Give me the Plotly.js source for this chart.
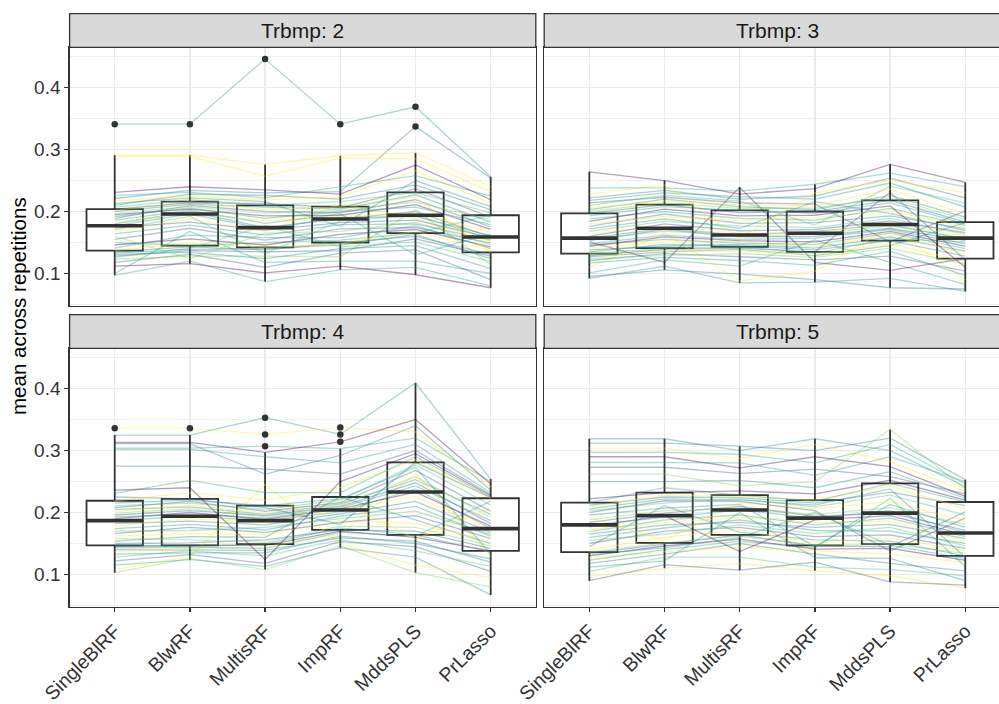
<!DOCTYPE html>
<html>
<head>
<meta charset="utf-8">
<script src="https://cdn.plot.ly/plotly-3.0.1.min.js"></script>
<style>
  html, body { margin: 0; padding: 0; overflow: hidden; background: #ffffff; width: 999px; height: 704px; }
  #plot { width: 1013px; height: 704px; }
</style>
</head>
<body>
<div id="plot"></div>
<script>
// Methods compared on the x axis
const methods = ['SingleBlRF', 'BlwRF', 'MultisRF', 'ImpRF', 'MddsPLS', 'PrLasso'];
const facetLabels = ['Trbmp: 2', 'Trbmp: 3', 'Trbmp: 4', 'Trbmp: 5'];
const yTickVals = [0.1, 0.2, 0.3, 0.4];
const yTickText = ['0.1', '0.2', '0.3', '0.4'];

// One row per dataset: mean across repetitions for each method
const trbmp2 = [
  [0.341,0.341,0.446,0.341,0.369,0.256],
  [0.221,0.234,0.230,0.232,0.337,0.254],
  [0.291,0.291,0.276,0.290,0.295,0.240],
  [0.097,0.120,0.087,0.106,0.110,0.080],
  [0.112,0.116,0.101,0.112,0.098,0.077],
  [0.100,0.168,0.118,0.120,0.120,0.100],
  [0.118,0.131,0.110,0.133,0.138,0.090],
  [0.123,0.128,0.128,0.127,0.203,0.114],
  [0.131,0.134,0.124,0.140,0.145,0.108],
  [0.289,0.289,0.257,0.286,0.285,0.232],
  [0.128,0.137,0.135,0.137,0.156,0.128],
  [0.126,0.141,0.177,0.143,0.151,0.119],
  [0.133,0.139,0.140,0.146,0.163,0.124],
  [0.135,0.143,0.138,0.150,0.160,0.131],
  [0.137,0.150,0.142,0.148,0.168,0.137],
  [0.150,0.145,0.150,0.154,0.165,0.194],
  [0.146,0.156,0.146,0.163,0.171,0.143],
  [0.141,0.162,0.158,0.158,0.177,0.140],
  [0.155,0.173,0.154,0.172,0.174,0.149],
  [0.160,0.124,0.165,0.168,0.183,0.146],
  [0.164,0.178,0.162,0.179,0.180,0.154],
  [0.167,0.188,0.168,0.212,0.189,0.152],
  [0.174,0.183,0.170,0.182,0.186,0.158],
  [0.171,0.192,0.132,0.185,0.194,0.156],
  [0.177,0.196,0.172,0.190,0.192,0.161],
  [0.180,0.200,0.174,0.188,0.200,0.159],
  [0.183,0.198,0.185,0.192,0.197,0.167],
  [0.186,0.202,0.181,0.196,0.130,0.164],
  [0.195,0.204,0.193,0.194,0.211,0.171],
  [0.192,0.206,0.189,0.200,0.207,0.179],
  [0.189,0.210,0.200,0.198,0.219,0.175],
  [0.197,0.208,0.197,0.202,0.215,0.187],
  [0.200,0.212,0.207,0.204,0.227,0.183],
  [0.202,0.216,0.203,0.208,0.223,0.134],
  [0.204,0.214,0.213,0.206,0.237,0.191],
  [0.207,0.219,0.210,0.216,0.231,0.198],
  [0.213,0.222,0.216,0.176,0.250,0.208],
  [0.210,0.228,0.226,0.220,0.243,0.203],
  [0.217,0.225,0.219,0.224,0.266,0.213],
  [0.226,0.231,0.222,0.240,0.258,0.225],
  [0.231,0.240,0.235,0.228,0.275,0.219]
];

const trbmp3 = [
  [0.092,0.112,0.085,0.086,0.092,0.071],
  [0.095,0.106,0.099,0.090,0.077,0.075],
  [0.110,0.165,0.088,0.104,0.175,0.090],
  [0.101,0.122,0.112,0.154,0.118,0.082],
  [0.151,0.118,0.239,0.118,0.105,0.124],
  [0.117,0.126,0.121,0.113,0.136,0.097],
  [0.121,0.132,0.127,0.122,0.128,0.104],
  [0.124,0.129,0.132,0.126,0.141,0.115],
  [0.127,0.135,0.139,0.129,0.145,0.182],
  [0.131,0.137,0.136,0.131,0.148,0.119],
  [0.129,0.139,0.141,0.135,0.231,0.122],
  [0.132,0.141,0.143,0.133,0.156,0.151],
  [0.135,0.147,0.145,0.138,0.153,0.128],
  [0.138,0.144,0.147,0.141,0.159,0.136],
  [0.141,0.151,0.151,0.144,0.162,0.132],
  [0.146,0.155,0.149,0.147,0.165,0.140],
  [0.144,0.159,0.153,0.151,0.168,0.144],
  [0.148,0.162,0.155,0.157,0.171,0.148],
  [0.153,0.171,0.159,0.160,0.173,0.153],
  [0.155,0.168,0.161,0.163,0.177,0.157],
  [0.157,0.173,0.162,0.168,0.179,0.155],
  [0.164,0.176,0.165,0.165,0.182,0.160],
  [0.160,0.180,0.169,0.171,0.185,0.166],
  [0.168,0.184,0.177,0.174,0.189,0.163],
  [0.172,0.188,0.173,0.216,0.197,0.169],
  [0.176,0.196,0.181,0.182,0.193,0.172],
  [0.180,0.192,0.185,0.190,0.201,0.175],
  [0.188,0.200,0.189,0.186,0.205,0.178],
  [0.184,0.204,0.193,0.194,0.209,0.110],
  [0.193,0.208,0.202,0.197,0.214,0.180],
  [0.197,0.211,0.198,0.200,0.218,0.183],
  [0.200,0.214,0.205,0.206,0.222,0.187],
  [0.203,0.220,0.208,0.203,0.226,0.191],
  [0.206,0.217,0.211,0.209,0.236,0.196],
  [0.214,0.223,0.214,0.212,0.151,0.201],
  [0.210,0.226,0.217,0.178,0.241,0.214],
  [0.218,0.230,0.224,0.220,0.246,0.207],
  [0.222,0.234,0.220,0.225,0.254,0.222],
  [0.228,0.243,0.157,0.230,0.250,0.230],
  [0.238,0.238,0.233,0.244,0.262,0.240],
  [0.264,0.250,0.228,0.237,0.276,0.247]
];

const trbmp4 = [
  [0.325,0.325,0.353,0.326,0.409,0.254],
  [0.311,0.311,0.262,0.292,0.340,0.236],
  [0.336,0.336,0.326,0.337,0.330,0.241],
  [0.304,0.304,0.307,0.303,0.320,0.250],
  [0.313,0.313,0.297,0.314,0.350,0.246],
  [0.302,0.302,0.290,0.280,0.310,0.232],
  [0.275,0.275,0.270,0.262,0.300,0.229],
  [0.103,0.126,0.108,0.146,0.103,0.080],
  [0.115,0.124,0.113,0.143,0.128,0.067],
  [0.108,0.129,0.245,0.150,0.115,0.095],
  [0.122,0.132,0.118,0.153,0.145,0.105],
  [0.128,0.138,0.130,0.156,0.138,0.113],
  [0.133,0.135,0.135,0.162,0.150,0.125],
  [0.140,0.140,0.139,0.159,0.154,0.120],
  [0.137,0.142,0.145,0.165,0.263,0.129],
  [0.143,0.144,0.142,0.168,0.162,0.218],
  [0.145,0.147,0.147,0.170,0.160,0.138],
  [0.147,0.146,0.149,0.175,0.164,0.136],
  [0.150,0.151,0.156,0.172,0.170,0.142],
  [0.158,0.156,0.152,0.178,0.176,0.146],
  [0.154,0.161,0.160,0.225,0.188,0.150],
  [0.162,0.166,0.164,0.187,0.182,0.154],
  [0.166,0.176,0.168,0.184,0.195,0.158],
  [0.170,0.171,0.176,0.190,0.202,0.165],
  [0.174,0.181,0.172,0.194,0.210,0.162],
  [0.182,0.186,0.180,0.198,0.218,0.168],
  [0.178,0.190,0.184,0.204,0.226,0.171],
  [0.187,0.194,0.187,0.201,0.238,0.174],
  [0.190,0.200,0.189,0.206,0.233,0.178],
  [0.193,0.197,0.191,0.208,0.243,0.187],
  [0.196,0.203,0.195,0.210,0.248,0.182],
  [0.199,0.206,0.193,0.212,0.258,0.192],
  [0.205,0.209,0.197,0.214,0.253,0.197],
  [0.202,0.212,0.199,0.218,0.157,0.207],
  [0.208,0.218,0.202,0.216,0.268,0.202],
  [0.211,0.215,0.205,0.220,0.277,0.212],
  [0.215,0.220,0.211,0.222,0.273,0.133],
  [0.225,0.222,0.208,0.181,0.281,0.224],
  [0.219,0.232,0.220,0.240,0.285,0.223],
  [0.231,0.252,0.232,0.232,0.290,0.225],
  [0.236,0.240,0.124,0.250,0.295,0.227]
];

const trbmp5 = [
  [0.319,0.319,0.300,0.319,0.300,0.242],
  [0.312,0.312,0.307,0.300,0.320,0.253],
  [0.304,0.304,0.287,0.310,0.282,0.234],
  [0.297,0.297,0.294,0.280,0.310,0.246],
  [0.290,0.290,0.272,0.290,0.274,0.226],
  [0.281,0.281,0.280,0.260,0.290,0.250],
  [0.273,0.273,0.263,0.270,0.258,0.230],
  [0.262,0.262,0.243,0.250,0.334,0.238],
  [0.250,0.250,0.252,0.240,0.266,0.223],
  [0.097,0.110,0.118,0.106,0.098,0.078],
  [0.090,0.116,0.107,0.120,0.088,0.083],
  [0.105,0.128,0.128,0.112,0.108,0.098],
  [0.112,0.122,0.200,0.127,0.126,0.090],
  [0.118,0.133,0.150,0.133,0.118,0.106],
  [0.127,0.137,0.144,0.138,0.133,0.119],
  [0.123,0.140,0.154,0.143,0.223,0.113],
  [0.130,0.146,0.157,0.141,0.142,0.123],
  [0.132,0.143,0.160,0.200,0.147,0.126],
  [0.134,0.149,0.164,0.146,0.145,0.201],
  [0.136,0.151,0.162,0.147,0.149,0.134],
  [0.145,0.211,0.168,0.156,0.154,0.130],
  [0.140,0.160,0.172,0.151,0.159,0.138],
  [0.150,0.170,0.176,0.161,0.164,0.142],
  [0.155,0.165,0.180,0.166,0.176,0.146],
  [0.160,0.175,0.188,0.171,0.170,0.150],
  [0.165,0.180,0.184,0.176,0.181,0.158],
  [0.173,0.184,0.192,0.184,0.186,0.154],
  [0.169,0.188,0.196,0.180,0.191,0.161],
  [0.177,0.195,0.137,0.188,0.195,0.164],
  [0.180,0.192,0.204,0.191,0.203,0.167],
  [0.184,0.199,0.210,0.194,0.199,0.171],
  [0.188,0.203,0.207,0.197,0.208,0.181],
  [0.196,0.207,0.213,0.145,0.213,0.176],
  [0.192,0.155,0.216,0.206,0.218,0.186],
  [0.200,0.219,0.218,0.203,0.138,0.191],
  [0.203,0.215,0.222,0.209,0.228,0.196],
  [0.206,0.222,0.220,0.212,0.238,0.128],
  [0.212,0.225,0.224,0.215,0.233,0.211],
  [0.209,0.228,0.226,0.220,0.243,0.206],
  [0.216,0.240,0.228,0.218,0.247,0.217],
  [0.222,0.232,0.235,0.230,0.252,0.220]
];

const panels = [trbmp2, trbmp3, trbmp4, trbmp5];

// ---- page geometry (pixels) ----
const W = 1013, H = 704;
const colPx = [[69.6, 535.8], [544.2, 1010.4]];
const rowPx = [[47.3, 305.7], [348.3, 606.7]];
const stripH = 33.6;
const fx = p => p / W;
const fy = p => 1 - p / H;

const FONT = '"Liberation Sans", Arial, Helvetica, sans-serif';
const DARK = '#333333';
const TICK_TEXT = '#333333';

// viridis tones used for the dataset lines
const lineColors = ['#21918C', '#2A788E', '#FDE725', '#22A884', '#440154', '#1F9E89',
                    '#355F8D', '#7AD151', '#21918C', '#FDE725', '#3B528B', '#44BF70'];
function withAlpha(hex, a) {
  const r = parseInt(hex.slice(1, 3), 16), g = parseInt(hex.slice(3, 5), 16), b = parseInt(hex.slice(5, 7), 16);
  return 'rgba(' + r + ',' + g + ',' + b + ',' + a + ')';
}

// R type-7 quantile
function quantile(sorted, p) {
  const h = (sorted.length - 1) * p;
  const lo = Math.floor(h);
  const hi = Math.min(lo + 1, sorted.length - 1);
  return sorted[lo] + (h - lo) * (sorted[hi] - sorted[lo]);
}
function boxStats(vals) {
  const s = vals.slice().sort((a, b) => a - b);
  const q1 = quantile(s, 0.25), med = quantile(s, 0.5), q3 = quantile(s, 0.75);
  const iqr = q3 - q1;
  const lo = q1 - 1.5 * iqr, hi = q3 + 1.5 * iqr;
  const inside = s.filter(v => v >= lo && v <= hi);
  return {
    q1: q1, median: med, q3: q3,
    lowerfence: inside[0], upperfence: inside[inside.length - 1],
    outliers: s.filter(v => v < lo || v > hi)
  };
}

// shared y scale with 5% padding
let allVals = [];
panels.forEach(p => p.forEach(r => { allVals = allVals.concat(r); }));
const vMin = Math.min.apply(null, allVals), vMax = Math.max.apply(null, allVals);
const pad = (vMax - vMin) * 0.05;
const yRange = [vMin - pad, vMax + pad];

const xIdx = methods.map((_, j) => j);
const traces = [];
const layout = {
  width: W, height: H, autosize: false,
  margin: { l: 0, r: 0, t: 0, b: 0 },
  paper_bgcolor: '#ffffff', plot_bgcolor: '#ffffff',
  showlegend: false,
  font: { family: FONT, color: '#000000' },
  shapes: [], annotations: []
};

panels.forEach((lines, pi) => {
  const col = pi % 2, row = Math.floor(pi / 2);
  const suf = pi === 0 ? '' : String(pi + 1);
  const xa = 'x' + suf, ya = 'y' + suf;

  const stats = xIdx.map(j => boxStats(lines.map(r => r[j])));

  traces.push({
    type: 'box', xaxis: xa, yaxis: ya,
    x: xIdx,
    q1: stats.map(s => s.q1), median: stats.map(s => s.median), q3: stats.map(s => s.q3),
    lowerfence: stats.map(s => s.lowerfence), upperfence: stats.map(s => s.upperfence),
    width: 0.75, whiskerwidth: 0, boxpoints: false,
    fillcolor: '#ffffff', line: { color: DARK, width: 1.8 },
    hoverinfo: 'skip'
  });

  lines.forEach((r, i) => {
    traces.push({
      type: 'scatter', mode: 'lines', xaxis: xa, yaxis: ya,
      x: xIdx, y: r,
      line: { color: withAlpha(lineColors[i % lineColors.length], 0.38), width: 1.3 },
      hoverinfo: 'skip'
    });
  });

  // thick median bars
  const mx = [], my = [];
  stats.forEach((s, j) => { mx.push(j - 0.375, j + 0.375, null); my.push(s.median, s.median, null); });
  traces.push({
    type: 'scatter', mode: 'lines', xaxis: xa, yaxis: ya,
    x: mx, y: my, line: { color: DARK, width: 3.6 }, hoverinfo: 'skip'
  });

  // outlying points
  const ox = [], oy = [];
  stats.forEach((s, j) => s.outliers.forEach(v => { ox.push(j); oy.push(v); }));
  traces.push({
    type: 'scatter', mode: 'markers', xaxis: xa, yaxis: ya,
    x: ox, y: oy, marker: { color: DARK, size: 6.5 }, hoverinfo: 'skip'
  });

  const xKey = 'xaxis' + suf, yKey = 'yaxis' + suf;
  layout[xKey] = {
    domain: [fx(colPx[col][0]), fx(colPx[col][1])],
    anchor: ya, range: [-0.6, 5.6],
    tickmode: 'array', tickvals: xIdx, ticktext: methods,
    showticklabels: row === 1, ticks: row === 1 ? 'outside' : '',
    ticklen: 4, tickwidth: 1.3, tickcolor: DARK, tickangle: -45,
    tickfont: { family: FONT, size: 19.5, color: TICK_TEXT },
    showgrid: true, gridcolor: '#EBEBEB', gridwidth: 1.5,
    zeroline: false, showline: true, mirror: true, linecolor: DARK, linewidth: 1.3,
    fixedrange: true
  };
  layout[yKey] = {
    domain: [fy(rowPx[row][1]), fy(rowPx[row][0])],
    anchor: xa, range: yRange,
    tickmode: 'array', tickvals: yTickVals, ticktext: yTickText,
    showticklabels: col === 0, ticks: col === 0 ? 'outside' : '',
    ticklen: 4, tickwidth: 1.3, tickcolor: DARK,
    tickfont: { family: FONT, size: 19, color: TICK_TEXT },
    showgrid: true, gridcolor: '#EBEBEB', gridwidth: 1.5,
    minor: { tickmode: 'array', tickvals: [0.05, 0.15, 0.25, 0.35, 0.45], showgrid: true,
             gridcolor: '#EBEBEB', gridwidth: 0.8, ticks: '' },
    zeroline: false, showline: true, mirror: true, linecolor: DARK, linewidth: 1.3,
    fixedrange: true
  };

  // facet strip
  const top = rowPx[row][0];
  layout.shapes.push({
    type: 'rect', xref: 'paper', yref: 'paper', layer: 'above',
    x0: fx(colPx[col][0]), x1: fx(colPx[col][1]),
    y0: fy(top), y1: fy(top - stripH),
    fillcolor: '#D9D9D9', line: { color: DARK, width: 1.3 }
  });
  layout.annotations.push({
    xref: 'paper', yref: 'paper', showarrow: false,
    x: fx((colPx[col][0] + colPx[col][1]) / 2), y: fy(top - stripH / 2),
    xanchor: 'center', yanchor: 'middle',
    text: facetLabels[pi], font: { family: FONT, size: 21, color: '#1A1A1A' }
  });
});

layout.annotations.push({
  xref: 'paper', yref: 'paper', showarrow: false,
  x: fx(19), y: fy(306), xanchor: 'center', yanchor: 'middle', textangle: -90,
  text: 'mean across repetitions', font: { family: FONT, size: 20.5, color: '#000000' }
});

Plotly.newPlot('plot', traces, layout, { displayModeBar: false, staticPlot: true });
</script>
</body>
</html>
